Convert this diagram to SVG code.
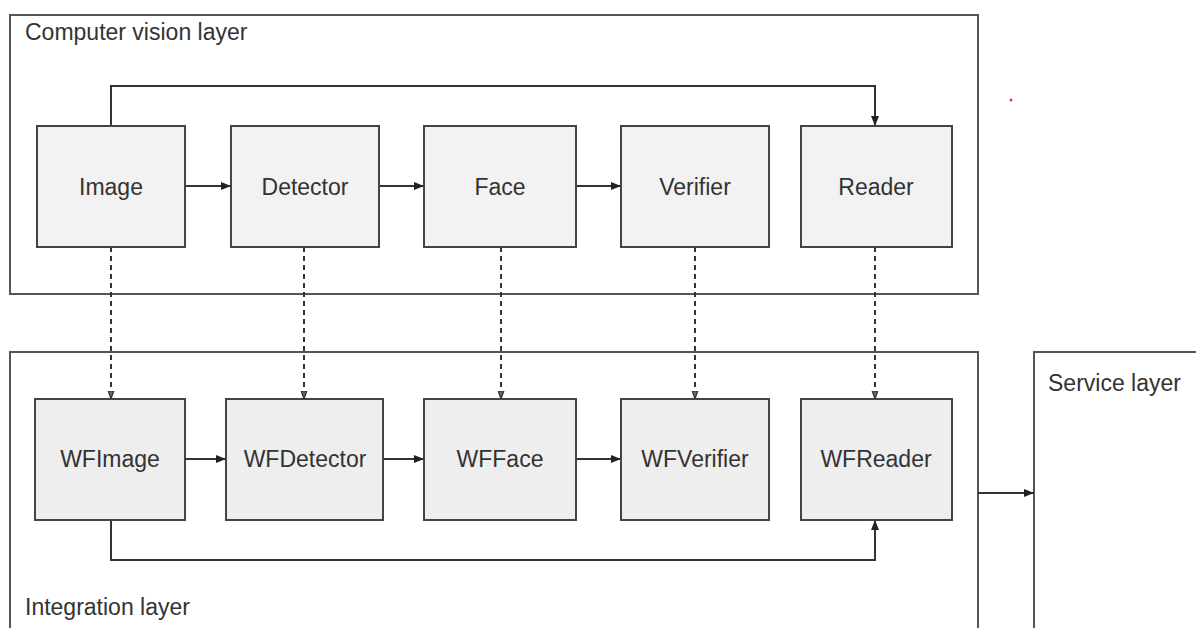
<svg xmlns="http://www.w3.org/2000/svg" width="1196" height="628" viewBox="0 0 1196 628">
  <defs>
    <marker id="arrow" viewBox="0 0 10 10" refX="10" refY="5" markerWidth="10" markerHeight="10" markerUnits="userSpaceOnUse" orient="auto">
      <path d="M0,1 L10,5 L0,9 Z" fill="#222"/>
    </marker>
    <marker id="arrow-small" viewBox="0 0 10 10" refX="10" refY="5" markerWidth="8" markerHeight="8" markerUnits="userSpaceOnUse" orient="auto">
      <path d="M0,1.5 L10,5 L0,8.5 Z" fill="#666" stroke="#333" stroke-width="1.5"/>
    </marker>
    <style>
      .layer { fill: none; stroke: #555; stroke-width: 2; }
      .node rect { fill: #f2f2f2; stroke: #444; stroke-width: 2; }
      .node.wf rect { fill: #eeeeee; }
      text { font-family: "Liberation Sans", Arial, sans-serif; font-size: 23px; fill: #333; }
      .node text { text-anchor: middle; }
      .flow { fill: none; stroke: #333; stroke-width: 2; marker-end: url(#arrow); }
      .link { fill: none; stroke: #333; stroke-width: 2; stroke-dasharray: 5 4; marker-end: url(#arrow-small); }
    </style>
  </defs>
  <rect width="1196" height="628" fill="#fff"/>

  <!-- Layers -->
  <g id="computer-vision-layer">
    <rect class="layer" x="10" y="15" width="968" height="279"/>
    <text x="25" y="40">Computer vision layer</text>
  </g>
  <g id="integration-layer">
    <path class="layer" d="M10,640 V352 H978 V640"/>
    <text x="25" y="615">Integration layer</text>
  </g>
  <g id="service-layer">
    <path class="layer" d="M1034,640 V352 H1200"/>
    <text x="1048" y="391">Service layer</text>
  </g>

  <!-- Connectors -->
  <g id="connectors">
    <!-- computer vision pipeline -->
    <path class="flow" d="M185,186 H231"/>
    <path class="flow" d="M379,186 H424"/>
    <path class="flow" d="M576,186 H621"/>
    <path class="flow" d="M111,126 V86 H875 V126"/>
    <!-- integration pipeline -->
    <path class="flow" d="M185,459 H226"/>
    <path class="flow" d="M383,459 H424"/>
    <path class="flow" d="M576,459 H621"/>
    <path class="flow" d="M111,520 V560 H875 V520"/>
    <!-- integration to service -->
    <path class="flow" d="M978,493 H1034"/>
    <!-- wrappers -->
    <path class="link" d="M111,247 V399"/>
    <path class="link" d="M304,247 V399"/>
    <path class="link" d="M501,247 V399"/>
    <path class="link" d="M695,247 V399"/>
    <path class="link" d="M875,247 V399"/>
  </g>

  <!-- Computer vision nodes -->
  <g id="image" class="node"><rect x="37" y="126" width="148" height="121"/><text x="111" y="195">Image</text></g>
  <g id="detector" class="node"><rect x="231" y="126" width="148" height="121"/><text x="305" y="195">Detector</text></g>
  <g id="face" class="node"><rect x="424" y="126" width="152" height="121"/><text x="500" y="195">Face</text></g>
  <g id="verifier" class="node"><rect x="621" y="126" width="148" height="121"/><text x="695" y="195">Verifier</text></g>
  <g id="reader" class="node"><rect x="801" y="126" width="151" height="121"/><text x="876" y="195">Reader</text></g>

  <!-- Integration nodes -->
  <g id="wfimage" class="node wf"><rect x="35" y="399" width="150" height="121"/><text x="110" y="467">WFImage</text></g>
  <g id="wfdetector" class="node wf"><rect x="226" y="399" width="157" height="121"/><text x="305" y="467">WFDetector</text></g>
  <g id="wfface" class="node wf"><rect x="424" y="399" width="152" height="121"/><text x="500" y="467">WFFace</text></g>
  <g id="wfverifier" class="node wf"><rect x="621" y="399" width="148" height="121"/><text x="695" y="467">WFVerifier</text></g>
  <g id="wfreader" class="node wf"><rect x="801" y="399" width="151" height="121"/><text x="876" y="467">WFReader</text></g>

  <circle cx="1011" cy="100" r="1.5" fill="#e33"/>
</svg>
